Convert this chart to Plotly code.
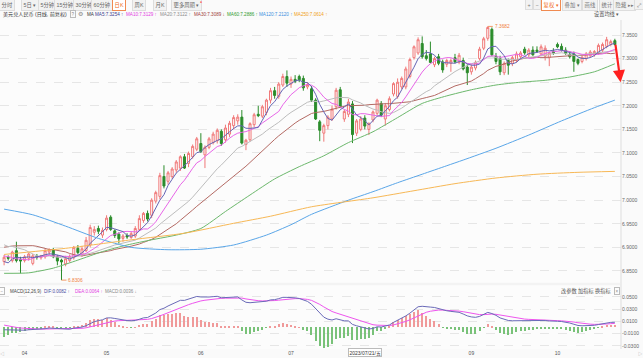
import pandas as pd
import plotly.graph_objects as go

# ---------------- data ----------------
dates = pd.bdate_range("2023-03-27", "2023-10-20")

open_ = [6.870,6.879,6.872,6.893,6.874,6.872,6.877,6.866,6.881,6.878,
         6.880,6.890,6.895,6.880,6.873,6.865,6.872,6.878,6.898,6.884,
         6.893,6.905,6.932,6.940,6.926,6.938,6.964,6.935,6.928,6.919,
         6.925,6.921,6.924,6.938,6.957,6.972,6.968,6.998,7.008,7.050,
         7.040,7.050,7.064,7.068,7.092,7.078,7.092,7.108,7.120,7.096,
         7.112,7.122,7.126,7.146,7.128,7.140,7.158,7.168,7.176,7.118,
         7.128,7.160,7.182,7.178,7.186,7.212,7.232,7.220,7.244,7.262,
         7.246,7.256,7.262,7.258,7.240,7.236,7.212,7.166,7.142,7.158,
         7.172,7.198,7.234,7.172,7.182,7.204,7.142,7.150,7.174,7.150,
         7.170,7.184,7.205,7.172,7.192,7.225,7.220,7.240,7.240,7.262,
         7.302,7.312,7.332,7.306,7.310,7.287,7.304,7.293,7.288,7.290,
         7.302,7.292,7.296,7.282,7.272,7.280,7.300,7.322,7.343,7.362,
         7.305,7.300,7.270,7.296,7.290,7.296,7.304,7.320,7.308,7.318,
         7.318,7.310,7.305,7.302,7.316,7.330,7.326,7.318,7.309,7.310,
         7.298,7.294,7.300,7.306,7.308,7.312,7.318,7.326,7.330,7.338]
high = [6.884,6.883,6.893,6.912,6.880,6.884,6.889,6.886,6.886,6.884,
        6.897,6.898,6.899,6.884,6.876,6.882,6.885,6.903,6.905,6.903,
        6.922,6.948,6.945,6.946,6.942,6.968,6.968,6.938,6.932,6.928,
        6.930,6.933,6.945,6.968,6.975,6.978,7.004,7.020,7.058,7.074,
        7.062,7.070,7.085,7.095,7.098,7.103,7.118,7.134,7.142,7.116,
        7.134,7.145,7.152,7.150,7.160,7.168,7.180,7.182,7.191,7.130,
        7.165,7.185,7.200,7.202,7.215,7.238,7.240,7.250,7.268,7.275,
        7.262,7.265,7.266,7.264,7.250,7.242,7.216,7.170,7.162,7.180,
        7.200,7.238,7.240,7.192,7.215,7.210,7.172,7.178,7.180,7.165,
        7.190,7.215,7.210,7.206,7.220,7.250,7.258,7.262,7.283,7.302,
        7.328,7.345,7.347,7.318,7.336,7.304,7.310,7.298,7.300,7.300,
        7.310,7.312,7.302,7.288,7.288,7.296,7.325,7.346,7.3682,7.366,
        7.312,7.306,7.294,7.300,7.306,7.315,7.316,7.325,7.322,7.326,
        7.326,7.330,7.328,7.314,7.322,7.334,7.332,7.324,7.316,7.315,
        7.300,7.306,7.314,7.318,7.318,7.332,7.334,7.346,7.340,7.342]
low = [6.862,6.872,6.868,6.868,6.845,6.868,6.872,6.862,6.874,6.874,
       6.876,6.884,6.877,6.862,6.8306,6.860,6.868,6.874,6.885,6.880,
       6.890,6.900,6.925,6.928,6.920,6.934,6.935,6.920,6.908,6.912,
       6.918,6.918,6.920,6.935,6.952,6.955,6.962,6.993,7.002,7.025,
       7.033,7.045,7.058,7.062,7.066,7.070,7.088,7.104,7.100,7.068,
       7.108,7.118,7.120,7.115,7.122,7.134,7.150,7.160,7.118,7.106,
       7.124,7.155,7.176,7.174,7.180,7.205,7.215,7.215,7.240,7.240,
       7.238,7.248,7.250,7.232,7.235,7.208,7.170,7.125,7.124,7.150,
       7.168,7.192,7.195,7.166,7.176,7.121,7.136,7.146,7.150,7.138,
       7.165,7.180,7.176,7.158,7.188,7.220,7.215,7.235,7.235,7.258,
       7.298,7.308,7.300,7.296,7.290,7.282,7.286,7.270,7.282,7.272,
       7.290,7.288,7.275,7.244,7.266,7.275,7.296,7.318,7.338,7.305,
       7.288,7.265,7.265,7.266,7.284,7.292,7.300,7.308,7.302,7.306,
       7.312,7.306,7.296,7.284,7.308,7.322,7.315,7.308,7.300,7.272,
       7.286,7.290,7.296,7.302,7.304,7.308,7.314,7.322,7.326,7.328]
close = [6.879,6.877,6.890,6.872,6.871,6.880,6.886,6.882,6.879,6.882,
         6.893,6.895,6.880,6.871,6.869,6.876,6.880,6.900,6.889,6.897,
         6.915,6.942,6.938,6.934,6.936,6.962,6.938,6.925,6.918,6.924,
         6.922,6.929,6.940,6.961,6.972,6.960,7.000,7.016,7.052,7.030,
         7.058,7.066,7.081,7.092,7.068,7.099,7.114,7.130,7.103,7.112,
         7.130,7.140,7.148,7.120,7.153,7.163,7.175,7.176,7.121,7.127,
         7.162,7.181,7.179,7.198,7.212,7.232,7.222,7.246,7.262,7.248,
         7.256,7.252,7.255,7.238,7.245,7.212,7.172,7.148,7.158,7.176,
         7.193,7.233,7.198,7.188,7.208,7.139,7.168,7.172,7.157,7.162,
         7.187,7.212,7.180,7.200,7.215,7.247,7.250,7.258,7.278,7.298,
         7.325,7.340,7.304,7.300,7.292,7.300,7.290,7.276,7.296,7.296,
         7.293,7.307,7.278,7.270,7.282,7.292,7.320,7.342,7.366,7.308,
         7.294,7.272,7.290,7.286,7.302,7.310,7.312,7.312,7.318,7.308,
         7.315,7.325,7.322,7.312,7.312,7.325,7.318,7.311,7.304,7.294,
         7.290,7.303,7.310,7.314,7.315,7.328,7.330,7.340,7.336,7.330]

# estimated closes before the visible window (needed for MA / MACD warm-up)
prior_close = [6.83,6.86,6.86,6.87,6.86,6.88,6.90,6.92,6.96,6.96,
               6.95,6.89,6.92,6.91,6.93,6.98,6.97,6.96,6.91,6.87,
               6.89,6.91,6.90,6.88,6.89,6.89,6.85,6.85,6.88]

# long moving averages (index, value)
ma60_idx = [0,6,12,18,24,30,36,42,48,54,60,66,72,78,84,90,96,102,108,114,120,126,132,138,144,149]
ma60_val = [6.845,6.846,6.856,6.873,6.891,6.905,6.916,6.926,6.940,6.976,7.011,7.045,7.071,7.094,
            7.122,7.145,7.175,7.205,7.221,7.234,7.244,7.250,7.254,7.261,7.272,7.289]
ma120_idx = [0,7,15,23,31,40,48,56,64,70,75,84,90,96,102,108,112,120,128,136,144,149]
ma120_val = [6.981,6.969,6.945,6.919,6.900,6.895,6.896,6.905,6.926,6.948,6.970,7.000,7.018,7.037,
             7.055,7.073,7.085,7.110,7.138,7.168,7.196,7.212]
ma250_idx = [0,15,31,44,56,65,75,90,100,110,120,130,140,149]
ma250_val = [6.885,6.898,6.916,6.930,6.951,6.966,6.986,7.005,7.020,7.035,7.047,7.055,7.059,7.061]

month_tick_idx = [5, 25, 48, 70, 114, 135]
month_tick_txt = ["04", "05", "06", "07", "09", "10"]
price_ticks = [6.85, 6.90, 6.95, 7.00, 7.05, 7.10, 7.15, 7.20, 7.25, 7.30, 7.35]
macd_ticks = [0.05, 0.03, 0.01, -0.01, -0.03]

ma_legend = [("MA5:7.3254", "↑", "#3b3b8f"), ("MA10:7.3129", "↑", "#e23ee2"),
             ("MA20:7.3122", "↑", "#8c8c8c"), ("MA30:7.3089", "↓", "#a0403c"),
             ("MA60:7.2886", "↑", "#2f9a2f"), ("MA120:7.2120", "↑", "#3a8fe0"),
             ("MA250:7.0614", "↑", "#f0a020")]
macd_legend = [("DIF:0.0082", "↑", "#4a4aa0"), ("DEA:0.0064", "↑", "#e23ee2"),
               ("MACD:0.0036", "↓", "#888888")]

# ---------------- derived indicators ----------------
n = len(close)
idx = list(range(n))
all_close = pd.Series(prior_close + close)
ma_short = {k: all_close.rolling(k).mean().iloc[-n:].tolist() for k in (5, 10, 20, 30)}
ema12 = all_close.ewm(span=12, adjust=False).mean()
ema26 = all_close.ewm(span=26, adjust=False).mean()
dif = ema12 - ema26
dea = dif.ewm(span=9, adjust=False).mean()
hist = (2 * (dif - dea))
dif, dea, hist = dif.iloc[-n:].tolist(), dea.iloc[-n:].tolist(), hist.iloc[-n:].tolist()

# ---------------- figure ----------------
W, H = 643, 358
ML, MR, MT, MB = 0, 22, 0, 9
PW, PH = W - ML - MR, H - MT - MB
def px(x):
    return (x - ML) / PW
def py(y):
    return (PH - (y - MT)) / PH

FONT = "Liberation Sans, Noto Sans CJK SC, sans-serif"
fig = go.Figure()

fig.add_trace(go.Candlestick(
    x=idx, open=open_, high=high, low=low, close=close,
    increasing=dict(line=dict(color="#f07878", width=1), fillcolor="#fdfdfd"),
    decreasing=dict(line=dict(color="#2b8c2b", width=1), fillcolor="#2b8c2b"),
    whiskerwidth=0, showlegend=False, hoverinfo="skip", xaxis="x", yaxis="y"))

ma_colors = {5: "#6464b4", 10: "#e866e8", 20: "#bdbdbd", 30: "#b46a64"}
for k in (30, 20, 10, 5):
    fig.add_trace(go.Scatter(x=idx, y=ma_short[k], mode="lines",
                             line=dict(color=ma_colors[k], width=1),
                             showlegend=False, hoverinfo="skip", xaxis="x", yaxis="y"))
for xs, ys, c in ((ma60_idx, ma60_val, "#6cb86c"), (ma120_idx, ma120_val, "#5aa6e8"),
                  (ma250_idx, ma250_val, "#f7b856")):
    fig.add_trace(go.Scatter(x=xs, y=ys, mode="lines", line=dict(color=c, width=1, shape="spline", smoothing=0.6),
                             showlegend=False, hoverinfo="skip", xaxis="x", yaxis="y"))

bar_colors = ["#f09a9a" if v >= 0 else "#79c279" for v in hist]
fig.add_trace(go.Bar(x=idx, y=hist, marker=dict(color=bar_colors, line=dict(width=0)), width=0.28,
                     showlegend=False, hoverinfo="skip", xaxis="x2", yaxis="y2"))
fig.add_trace(go.Scatter(x=idx, y=dea, mode="lines", line=dict(color="#ee55ee", width=1),
                         showlegend=False, hoverinfo="skip", xaxis="x2", yaxis="y2"))
fig.add_trace(go.Scatter(x=idx, y=dif, mode="lines", line=dict(color="#6a6ab8", width=1),
                         showlegend=False, hoverinfo="skip", xaxis="x2", yaxis="y2"))

main_top, main_bot = 20, 282
macd_top, macd_bot = 286, 349

fig.update_layout(
    width=W, height=H, margin=dict(l=ML, r=MR, t=MT, b=MB),
    paper_bgcolor="#fafafa", plot_bgcolor="#fcfcfc",
    font=dict(family=FONT, size=5, color="#555"),
    bargap=0,
    xaxis=dict(domain=[0, 1], range=[-1, 150.5], showticklabels=False, showgrid=False,
               zeroline=False, rangeslider=dict(visible=False), anchor="y", fixedrange=True),
    yaxis=dict(domain=[py(main_bot), py(main_top)], range=[6.8266, 7.3818], side="right",
               tickvals=price_ticks, ticktext=[f"{v:.4f}" for v in price_ticks],
               showgrid=True, gridcolor="#e6e6e6", griddash="dash", gridwidth=1,
               zeroline=False, ticks="", tickfont=dict(size=5, color="#666"), anchor="x"),
    xaxis2=dict(domain=[0, 1], matches="x", range=[-1, 150.5], anchor="y2",
                tickvals=month_tick_idx, ticktext=month_tick_txt, showgrid=False, zeroline=False,
                ticks="", tickfont=dict(size=5, color="#555")),
    yaxis2=dict(domain=[0, py(macd_top)], range=[-0.035, 0.0675], side="right", anchor="x2",
                tickvals=macd_ticks, ticktext=[f"{v:.4f}" for v in macd_ticks],
                showgrid=True, gridcolor="#e6e6e6", griddash="dash", zeroline=False, ticks="",
                tickfont=dict(size=5, color="#666")),
)

ann = []
def txt(x, y, s, color="#444", size=5, xanchor="left", **kw):
    ann.append(dict(x=px(x), y=py(y), xref="paper", yref="paper", text=s, showarrow=False,
                    xanchor=xanchor, yanchor="middle", font=dict(family=FONT, size=size, color=color), **kw))

# toolbar
left_buttons = [("分时", 7), ("5日 ▾", 30), ("5分钟", 47), ("15分钟", 65), ("30分钟", 84),
                ("60分钟", 102), ("日K", 119), ("周K", 139), ("月K", 160), ("更多周期 ▾", 186)]
for s, cx in left_buttons:
    active = s == "日K"
    txt(cx, 5, s, color="#f06a20" if active else "#666", size=5.3, xanchor="center",
        bordercolor="#f08a50" if active else "#dddddd", bgcolor="#ffffff" if active else "#f2f2f2",
        borderpad=1.6, borderwidth=1)
txt(201, 2.5, "●", color="#ff3030", size=3.5, xanchor="center")
right_buttons = [("+", 529), ("−", 537), ("复权 ▾", 551), ("叠加 ▾", 572), ("画线", 590),
                 ("统计", 607), ("隐藏 ▸▸", 624), ("⤢", 639)]
for s, cx in right_buttons:
    active = s.startswith("复权")
    txt(cx, 5, s, color="#f06a20" if active else "#777", size=5.3, xanchor="center",
        bordercolor="#f08a50" if active else "#dddddd", bgcolor="#ffffff" if active else "#f2f2f2",
        borderpad=1.6, borderwidth=1)

# title + MA legend line
txt(1, 14, "美元兑人民币 (日线, 前复权)", color="#333", size=5.1)
txt(73, 14, "?", color="#888", size=4.5, xanchor="center", bordercolor="#bbbbbb", borderpad=0.5)
txt(80, 14, "⚙", color="#888", size=5.5, xanchor="center")
txt(85, 14, "MA", color="#333", size=4.6)
for (s, arr, c), x0 in zip(ma_legend, [93, 124, 158, 192, 225, 257, 292]):
    txt(x0, 14, f"{s} {arr}", color=c, size=4.6)

txt(606, 14, "设置均线 ▾", color="#555", size=5.2, xanchor="center")

# MACD header
txt(2, 291, "−", color="#888", size=4.5, xanchor="center", bordercolor="#bbbbbb", borderpad=0.5)
txt(8, 291, "MACD(12,26,9)", color="#444", size=4.5)
for (s, arr, c), x0 in zip(macd_legend, [42, 73, 103]):
    txt(x0, 291, f"{s} {arr}", color=c, size=4.5)
for s, cx in (("改参数", 569), ("加指标", 586), ("换指标", 603)):
    txt(cx, 291, s, color="#555", size=5.2, xanchor="center")
txt(617, 291, "×", color="#888", size=4.5, xanchor="center", bordercolor="#bbbbbb", borderpad=0.5)

# bottom: date box and scroll arrows
ann.append(dict(x=84, y=py(352.5), xref="x2", yref="paper", text="2023/07/21/五", showarrow=False,
                xanchor="left", yanchor="middle", font=dict(family=FONT, size=5, color="#333"),
                bgcolor="#ffffff", bordercolor="#bbbbbb", borderwidth=1, borderpad=0.5))
txt(2, 353, "◁", color="#999", size=4.5, xanchor="center")
txt(640, 353, "▷", color="#999", size=4.5, xanchor="center")

# high / low markers
hi_i = high.index(max(high))
lo_i = low.index(min(low))
ann.append(dict(x=hi_i, y=high[hi_i], xref="x", yref="y", text=f"{high[hi_i]:.4f}", showarrow=True,
                arrowhead=0, arrowwidth=0.8, arrowcolor="#f08040", ax=5, ay=0, xanchor="left",
                font=dict(family=FONT, size=4.8, color="#f08040")))
ann.append(dict(x=lo_i, y=low[lo_i], xref="x", yref="y", text=f"{low[lo_i]:.4f}", showarrow=True,
                arrowhead=0, arrowwidth=0.8, arrowcolor="#f08040", ax=5, ay=0, xanchor="left",
                font=dict(family=FONT, size=4.8, color="#f08040")))

# red arrow from the last candle down to the 7.25 level on the axis
ann.append(dict(x=150.4, y=7.25, xref="x", yref="y", ax=n - 1 + 0.1, ay=close[-1] + 0.003,
                axref="x", ayref="y", showarrow=True, arrowhead=2, arrowsize=1.1,
                arrowwidth=2.2, arrowcolor="#ff2020", text=""))

fig.update_layout(annotations=ann)

fig.add_shape(type="line", xref="paper", yref="paper", x0=1, x1=1, y0=0, y1=py(main_top),
              line=dict(color="#dddddd", width=1))
fig.add_shape(type="line", xref="paper", yref="paper", x0=0, x1=1, y0=py(main_bot + 2), y1=py(main_bot + 2),
              line=dict(color="#ececec", width=1))

fig.write_html("out.html", config={"displayModeBar": False},
               post_script="document.body.style.margin='0';document.body.style.overflow='hidden';")
